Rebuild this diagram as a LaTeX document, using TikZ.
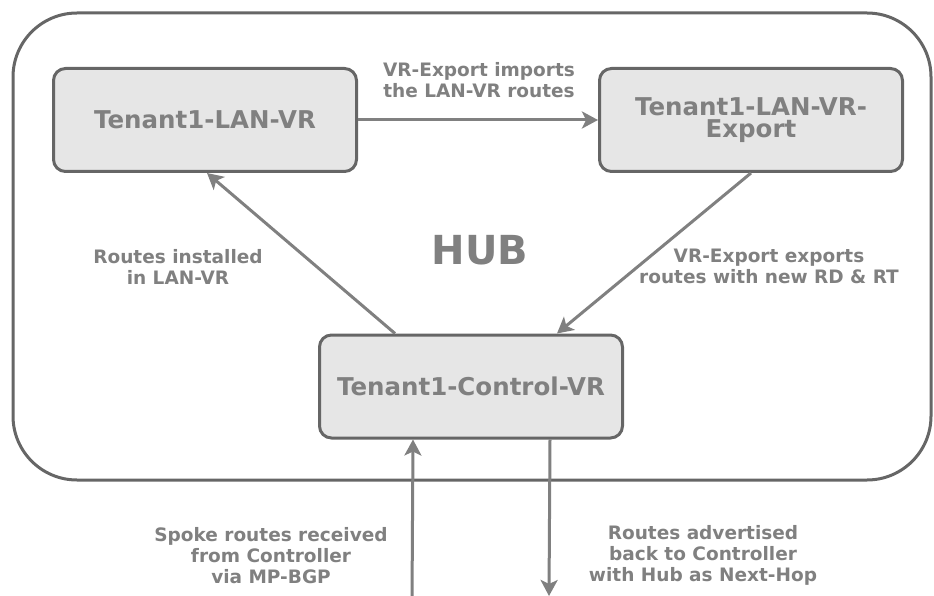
\documentclass[tikz,border=0pt]{standalone}
\usepackage{fontspec}
\setmainfont{DejaVu Sans}
\usetikzlibrary{arrows.meta}
\definecolor{bordergray}{HTML}{666666}
\definecolor{fillgray}{HTML}{E6E6E6}
\definecolor{textgray}{HTML}{808080}
\definecolor{arrowgray}{HTML}{808080}
\begin{document}
\begin{tikzpicture}[x=1pt,y=-1pt,
  vrbox/.style={draw=bordergray, fill=fillgray, line width=3pt, rounded corners=12pt,
    minimum width=303pt, minimum height=103pt, inner sep=0pt, text=textgray,
    font=\fontsize{24.5}{22.5}\selectfont\bfseries, align=center},
  flow/.style={draw=arrowgray, line width=3pt, -{Stealth[length=16pt,width=17pt,inset=4pt]}},
  lbl/.style={text=textgray, font=\fontsize{18.5}{21}\selectfont\bfseries, align=center, inner sep=0pt}]
\useasboundingbox (0,0) rectangle (934,596);
% outer hub frame
\draw[draw=bordergray, line width=3pt, rounded corners=64pt] (13,13) rectangle (931,480);
\node[text=textgray, font=\fontsize{40}{40}\selectfont\bfseries, inner sep=0pt] (hub) at (480,250) {HUB};
% boxes
\node[vrbox] (lan) at (205,120) {Tenant1-LAN-VR};
\node[vrbox] (exp) at (751,120) {Tenant1-LAN-VR-\\Export};
\node[vrbox] (ctrl) at (471,386.5) {Tenant1-Control-VR};
% connectors
\draw[flow] (lan.east) -- (exp.west);
\draw[flow] (exp.south) -- ([xshift=239pt]ctrl.north west);
\draw[flow] ([xshift=77pt]ctrl.north west) -- ([xshift=2pt]lan.south);
\coordinate (upstart) at (412,600);
\coordinate (downend) at (549,596);
\draw[flow] (upstart) -- ([xshift=95pt]ctrl.south west);
\draw[flow] ([xshift=232pt]ctrl.south west) -- (downend);
% labels
\node[lbl] (l1) at (479,80.6) {VR-Export imports\\the LAN-VR routes};
\node[lbl] (l2) at (178,266.7) {Routes installed\\in LAN-VR};
\node[lbl] (l3) at (769,266.7) {VR-Export exports\\routes with new RD \& RT};
\node[lbl] (l4) at (271,555.3) {Spoke routes received\\from Controller\\via MP-BGP};
\node[lbl] (l5) at (703,555.3) {Routes advertised\\back to Controller\\with Hub as Next-Hop};
\end{tikzpicture}
\end{document}
